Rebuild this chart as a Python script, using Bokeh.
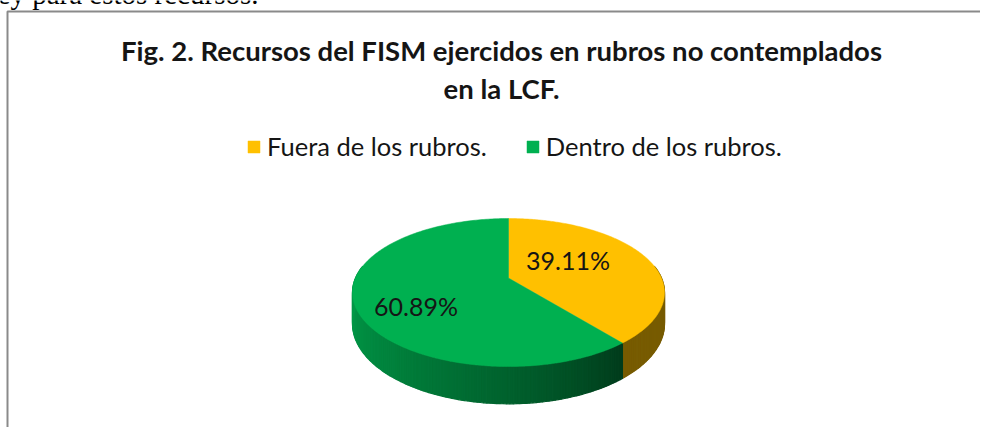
import numpy as np
from bokeh.plotting import figure
from bokeh.models import Range1d, ColumnDataSource
from bokeh.core.properties import value
from bokeh.embed import file_html
from bokeh.resources import INLINE

# ---- data ----
context_text = "ley para estos recursos."
title_lines = ["Fig. 2. Recursos del FISM ejercidos en rubros no contemplados",
               "en la LCF."]
categories = ["Fuera de los rubros.", "Dentro de los rubros."]
shares = [39.11, 60.89]
share_labels = ["39.11%", "60.89%"]

# ---- style ----
top_colors = ["#FFC000", "#00B050"]
FONT = "Lato"
label_radius = [0.44, 0.60]   # fraction of radius for label anchors
label_nudge_y = [-8, 13]      # small vertical nudges (px)

W, H = 980, 427
p = figure(width=W, height=H, output_backend="svg", toolbar_location=None,
           x_range=Range1d(0, W), y_range=Range1d(H, 0),
           min_border=0, background_fill_color="white", border_fill_color="white")
p.axis.visible = False
p.grid.visible = False
p.outline_line_color = None

# frame of the chart (decoration)
p.line(x=[7, 7, W + 2], y=[H + 2, 11, 11], line_color="#8a8a8a", line_width=2)

# context text from the page above (cut off)
p.text(x=[-11], y=[-7], text=[context_text], text_font=value("Liberation Serif"),
       text_font_size="29px", text_baseline="alphabetic", text_color="black")

# title
p.text(x=[501, 501], y=[50, 88], text=title_lines, text_font=value(FONT),
       text_font_style="bold", text_font_size="27.5px", text_align="center",
       text_baseline="middle", text_color="#151515")

# ---- 3D pie geometry (simple perspective) ----
cx, cy, rx, ry, persp, depth0 = 508.0, 277.6, 153.0, 71.2, 0.195, 30.0
total = float(sum(shares))
bounds = np.concatenate([[0.0], np.cumsum(shares) / total * 360.0])

def rim(theta_deg, frac=1.0):
    t = np.radians(theta_deg)
    k = 1.0 / (1.0 + persp * np.cos(t))
    return cx + frac * rx * np.sin(t) * k, cy - frac * ry * np.cos(t) * k, k

# side strips (visible front half: 90..270 deg clockwise from top)
side_xs, side_ys, side_cols = [], [], []
green_light = np.array([0, 154, 72])
green_dark = np.array([0, 60, 28])
for i in range(len(shares)):
    a0, a1 = max(bounds[i], 80.0), min(bounds[i + 1], 280.0)
    if a1 <= a0:
        continue
    steps = np.linspace(a0, a1, int((a1 - a0) / 1.0) + 2)
    for s0, s1 in zip(steps[:-1], steps[1:]):
        x0, y0, k0 = rim(s0)
        x1, y1, k1 = rim(s1)
        side_xs.append([x0, x1, x1, x0])
        side_ys.append([y0, y1, y1 + depth0 * k1, y0 + depth0 * k0])
        if i == 0:
            col = "#775B00"
        else:
            f = (270.0 - 0.5 * (s0 + s1)) / (270.0 - bounds[1])
            f = min(max(f, 0.0), 1.0) ** 1.4
            c = green_light + (green_dark - green_light) * f
            col = "#%02x%02x%02x" % tuple(int(v) for v in c)
        side_cols.append(col)
p.patches(xs=side_xs, ys=side_ys, fill_color=side_cols, line_color=side_cols,
          line_width=1.2)

# top faces
top_xs, top_ys = [], []
for i in range(len(shares)):
    th = np.linspace(bounds[i], bounds[i + 1], 240)
    xx, yy, _ = rim(th)
    top_xs.append([cx] + list(xx))
    top_ys.append([cy] + list(yy))
src = ColumnDataSource(dict(xs=top_xs, ys=top_ys, color=top_colors, category=categories))
p.patches(xs="xs", ys="ys", fill_color="color", line_color="color", line_width=0.5,
          source=src, legend_field="category")

# value labels, anchored on each slice's mid angle
lab_x, lab_y = [], []
for i in range(len(shares)):
    m = 0.5 * (bounds[i] + bounds[i + 1])
    lx, ly, _ = rim(m, label_radius[i])
    lab_x.append(lx)
    lab_y.append(ly + label_nudge_y[i])
p.text(x=lab_x, y=lab_y, text=share_labels, text_font=value(FONT),
       text_font_size="25px", text_align="center", text_baseline="middle",
       text_color="#151515")

# legend
lg = p.legend[0]
lg.orientation = "horizontal"
lg.location = (246, 266)
lg.padding = 0
lg.margin = 0
lg.spacing = 38
lg.glyph_width = 15
lg.glyph_height = 15
lg.label_standoff = 6
lg.label_height = 26
lg.label_text_font = FONT
lg.label_text_font_size = "25.5px"
lg.label_text_color = "#151515"
lg.border_line_color = None
lg.background_fill_alpha = 0

open("out.html", "w").write(file_html(p, INLINE))
